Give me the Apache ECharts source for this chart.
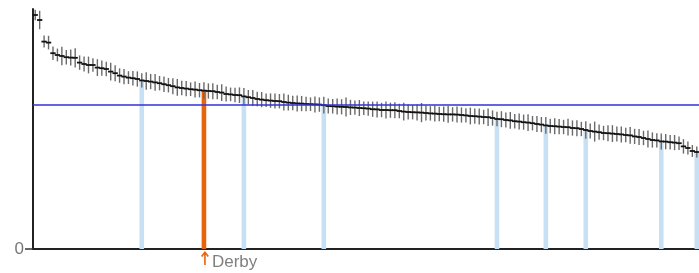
<!DOCTYPE html>
<html>
<head>
<meta charset="utf-8">
<script src="https://cdn.jsdelivr.net/npm/echarts@6/dist/echarts.min.js"></script>
<style>
  html, body { margin: 0; padding: 0; background: #fff; }
  #chart_container { width: 699px; height: 273px; }
</style>
</head>
<body>
<div id="chart_container"></div>
<script>
"use strict";

// areas sorted by value, highest first (150 areas, only the focus one is named)
const focusIndex = 38;
const focusName = 'Derby';
const highlighted = [24, 47, 65, 104, 115, 124, 141, 149];

const values = [
  117.0, 114.5, 103.7, 103.2, 97.9, 97.0, 96.5, 95.9, 95.7, 95.6,
  93.2, 92.5, 92.0, 92.0, 90.7, 90.4, 90.0, 88.7, 87.9, 86.7,
  86.2, 85.7, 85.4, 85.0, 84.3, 84.0, 83.7, 83.3, 82.9, 82.4,
  81.9, 81.4, 80.8, 80.5, 80.2, 79.9, 79.7, 79.4, 79.2, 79.0,
  78.9, 78.5, 78.2, 77.5, 77.3, 77.0, 76.9, 76.3, 75.9, 75.5,
  75.0, 74.7, 74.4, 74.2, 74.0, 73.9, 73.5, 73.2, 73.0, 72.8,
  72.7, 72.5, 72.4, 72.3, 72.2, 71.9, 71.5, 71.4, 71.2, 71.1,
  71.0, 70.8, 70.7, 70.5, 70.4, 70.2, 69.9, 69.8, 69.5, 69.5,
  69.4, 69.4, 69.0, 68.7, 68.5, 68.4, 68.3, 68.2, 68.0, 67.8,
  67.7, 67.5, 67.4, 67.3, 67.3, 67.2, 67.0, 66.8, 66.5, 66.4,
  66.2, 66.0, 65.9, 65.5, 65.0, 64.9, 64.5, 64.3, 63.9, 63.7,
  63.4, 63.2, 62.9, 62.5, 62.2, 61.8, 61.5, 61.4, 61.2, 61.0,
  60.9, 60.5, 60.4, 60.0, 59.5, 59.0, 58.7, 58.4, 58.0, 57.9,
  57.7, 57.5, 57.3, 57.0, 56.8, 56.3, 56.0, 55.5, 55.0, 54.5,
  54.3, 53.8, 53.7, 53.4, 53.2, 52.9, 51.3, 50.5, 49.0, 48.5
];

// half width of the interval around each value
const ciHalf = [
  2.6, 4.6, 3.0, 3.4, 3.4, 3.2, 4.6, 3.6, 4.0, 4.8,
  3.6, 3.8, 4.2, 3.4, 4.2, 3.8, 3.6, 4.4, 4.0, 3.6,
  3.8, 3.2, 3.6, 3.8, 3.6, 4.4, 3.8, 4.2, 3.6, 3.9,
  3.6, 4.0, 4.2, 3.6, 3.8, 3.4, 4.0, 3.6, 4.2, 3.8,
  4.0, 3.6, 4.2, 3.8, 3.4, 3.6, 3.9, 4.2, 3.6, 4.0,
  3.6, 3.8, 3.4, 3.6, 3.8, 3.6, 4.2, 3.9, 3.6, 4.0,
  3.8, 3.6, 3.4, 4.0, 3.6, 4.2, 3.8, 3.6, 4.0, 3.8,
  4.8, 3.8, 3.6, 4.0, 3.4, 3.6, 3.8, 4.0, 3.6, 4.2,
  3.8, 4.0, 3.6, 4.4, 3.8, 3.6, 4.0, 4.8, 3.8, 3.6,
  4.0, 3.6, 3.8, 4.2, 3.6, 4.0, 3.8, 3.6, 4.2, 3.8,
  4.0, 3.6, 4.4, 3.8, 3.6, 4.0, 3.8, 4.2, 3.6, 4.0,
  3.8, 4.2, 3.6, 4.0, 3.8, 4.2, 3.6, 4.0, 3.8, 3.6,
  4.2, 3.8, 4.0, 3.6, 4.4, 3.8, 5.0, 3.8, 3.6, 4.0,
  4.2, 3.8, 4.0, 3.6, 4.2, 3.8, 4.0, 3.6, 4.2, 3.8,
  3.6, 4.0, 3.8, 3.6, 3.8, 3.4, 3.6, 3.2, 3.0, 2.8
];

const averageValue = 72.2;
const yTicks = [0];

const categories = values.map((v, i) => i === focusIndex ? focusName : 'Area ' + (i + 1));

const highlightColor = '#c8e0f4';
const focusColor = '#e8640c';

let myChart;

let pageLoaded = () => {
    let chartDom = document.getElementById('chart_container');
    myChart = echarts.init(chartDom, null, { renderer: 'canvas' });

    let barData = values.map((v, i) => {
        if (i === focusIndex) {
            return { value: v, itemStyle: { color: focusColor } };
        }
        return highlighted.includes(i) ? v : '-';
    });

    let ciData = values.map((v, i) => [i, v, v - ciHalf[i], v + ciHalf[i]]);

    let renderCI = (params, api) => {
        let i = api.value(0);
        let p = api.coord([i, api.value(1)]);
        let lo = api.coord([i, api.value(2)]);
        let hi = api.coord([i, api.value(3)]);
        let w = api.size([1, 0])[0];
        return {
            type: 'group',
            children: [
                {
                    type: 'line',
                    shape: { x1: p[0], y1: hi[1], x2: p[0], y2: lo[1] },
                    style: { stroke: '#6a6a6a', lineWidth: 1.4 }
                },
                {
                    type: 'line',
                    z2: 5,
                    shape: { x1: p[0] - w * 0.6, y1: p[1], x2: p[0] + w * 0.6, y2: p[1] },
                    style: { stroke: '#111', lineWidth: 1.8 }
                }
            ]
        };
    };

    let optEchart = {
        animation: false,
        grid: { left: 33, right: -3, top: 9, bottom: 24 },
        xAxis: {
            type: 'category',
            data: categories,
            boundaryGap: true,
            axisLine: { lineStyle: { color: '#222', width: 2 } },
            axisTick: { show: false },
            axisLabel: { show: false },
            splitLine: { show: false }
        },
        yAxis: {
            type: 'value',
            min: 0,
            max: 120,
            axisLine: { show: true, lineStyle: { color: '#222', width: 2 } },
            axisTick: { show: true, customValues: yTicks, length: 8, lineStyle: { color: '#333', width: 1.5 } },
            axisLabel: {
                customValues: yTicks,
                fontFamily: 'Liberation Sans',
                fontSize: 17,
                color: '#777',
                margin: 9
            },
            splitLine: { show: false }
        },
        series: [
            {
                type: 'bar',
                data: barData,
                barWidth: 4.6,
                itemStyle: { color: highlightColor },
                z: 2,
                markPoint: {
                    silent: true,
                    data: [{
                        coord: [focusIndex, 0],
                        symbol: 'path://M4,0 L8,5 L6.6,6 L4.8,3.6 L4.8,14 L3.2,14 L3.2,3.6 L1.4,6 L0,5 Z',
                        symbolSize: [8, 14],
                        symbolOffset: [1, 9],
                        itemStyle: { color: focusColor },
                        label: {
                            show: true,
                            position: 'right',
                            distance: 3,
                            offset: [0, 4],
                            formatter: focusName,
                            fontFamily: 'Liberation Sans',
                            fontSize: 17,
                            color: '#808080'
                        }
                    }]
                }
            },
            {
                type: 'custom',
                data: ciData,
                encode: { x: 0, y: 1 },
                renderItem: renderCI,
                z: 3,
                markLine: {
                    silent: true,
                    symbol: 'none',
                    label: { show: false },
                    lineStyle: { color: '#3232d8', width: 1.5, type: 'solid' },
                    data: [{ yAxis: averageValue }]
                }
            }
        ]
    };

    optEchart && myChart.setOption(optEchart);
    console.log(`echart config and creation complete`);
};

window.addEventListener('load', pageLoaded, false);
</script>
</body>
</html>
